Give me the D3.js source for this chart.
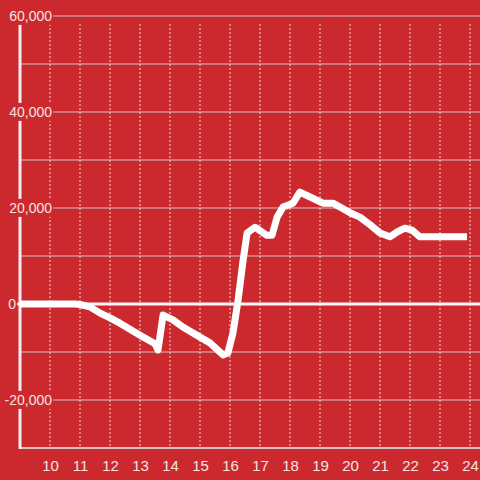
<!DOCTYPE html>
<html>
<head>
<meta charset="utf-8">
<script src="https://cdn.jsdelivr.net/npm/d3@7"></script>
<style>
  body { margin: 0; background: #cc292e; }
  svg { display: block; font-family: "Liberation Sans", Arial, sans-serif; }
</style>
</head>
<body>
<svg width="480" height="480"></svg>
<script>
var svg = d3.select("svg"),
    width = +svg.attr("width"),
    height = +svg.attr("height");

var bg = "#cc292e";

// hours of the day and running total
var hours = [9.0, 10.83, 11.0, 11.33, 11.67, 12.0, 12.33, 13.0, 13.5, 13.6, 13.77, 14.1, 14.43, 15.0, 15.33,
             15.77, 15.93, 16.1, 16.27, 16.43, 16.57, 16.83, 17.23, 17.4, 17.57, 17.77, 18.1, 18.33, 18.67,
             19.1, 19.43, 19.67, 20.0, 20.33, 20.67, 21.0, 21.33, 21.57, 21.83, 22.07, 22.33, 23.9];
var values = [0, 0, -100, -600, -1900, -2900, -4000, -6500, -8300, -9600, -2300, -3300, -4800, -6900, -8100,
              -10600, -10200, -6000, 800, 8800, 14800, 16000, 14300, 14300, 18100, 20200, 21000, 23300, 22300,
              21000, 21000, 20200, 19000, 18100, 16500, 14800, 14000, 15000, 15800, 15400, 14000, 14000];

var xTicks = [10, 11, 12, 13, 14, 15, 16, 17, 18, 19, 20, 21, 22, 23, 24];
var yGrid = [-20000, -10000, 10000, 20000, 30000, 40000, 50000, 60000];
var yLabels = [-20000, 0, 20000, 40000, 60000];

var x = d3.scaleLinear().domain([9, 24 + 1 / 3]).range([20, 480]);
var y = d3.scaleLinear().domain([-30000, 60000]).range([448, 16]);

var data = hours.map(function(h, i) { return {h: h, v: values[i]}; });

svg.append("rect").attr("width", width).attr("height", height).attr("fill", bg);

// horizontal grid
svg.append("g").selectAll("line")
    .data(yGrid)
  .enter().append("line")
    .attr("x1", x(9)).attr("x2", width)
    .attr("y1", function(d) { return y(d); })
    .attr("y2", function(d) { return y(d); })
    .attr("stroke", "#d2c4c4").attr("stroke-width", 1);

// vertical dotted grid
svg.append("g").selectAll("line")
    .data(xTicks)
  .enter().append("line")
    .attr("x1", function(d) { return x(d); })
    .attr("x2", function(d) { return x(d); })
    .attr("y1", 24).attr("y2", y(-30000))
    .attr("stroke", "#e8dcdc").attr("stroke-width", 1)
    .attr("stroke-dasharray", "2,2");

// bottom axis
var xAxis = svg.append("g")
    .attr("transform", "translate(0," + y(-30000) + ")")
    .call(d3.axisBottom(x).tickValues(xTicks).tickSize(0).tickPadding(12));
xAxis.select(".domain").attr("stroke", "#d2c4c4").attr("stroke-width", 2).attr("d", "M" + x(9) + ",0H" + width);
xAxis.selectAll("text").attr("fill", "#f3e4e4").attr("font-size", 15).attr("font-family", "Liberation Sans, Arial, sans-serif");

// left axis line
svg.append("line")
    .attr("x1", x(9)).attr("x2", x(9))
    .attr("y1", 24).attr("y2", y(-30000) + 1)
    .attr("stroke", "#f4eeee").attr("stroke-width", 3);

// zero line
svg.append("line")
    .attr("x1", 17).attr("x2", width)
    .attr("y1", y(0)).attr("y2", y(0))
    .attr("stroke", "#fbf6f6").attr("stroke-width", 3);

// y labels with background boxes
var yl = svg.append("g").selectAll("g")
    .data(yLabels)
  .enter().append("g");

yl.append("text")
    .attr("x", function(d) { return d == 0 ? 16 : 52; })
    .attr("y", function(d) { return y(d); })
    .attr("dy", "0.35em")
    .attr("text-anchor", "end")
    .attr("font-size", 14)
    .attr("fill", "#f3e4e4")
    .text(function(d) { return d3.format(",")(d).replace("−", "-"); });

yl.each(function() {
  var t = d3.select(this).select("text"),
      b = t.node().getBBox();
  d3.select(this).insert("rect", "text")
      .attr("x", b.x - 1).attr("y", b.y - 1)
      .attr("width", b.width + 2).attr("height", b.height + 2)
      .attr("fill", bg);
});

// the series
var line = d3.line()
    .x(function(d) { return x(d.h); })
    .y(function(d) { return y(d.v); });

svg.append("path")
    .datum(data)
    .attr("d", line)
    .attr("fill", "none")
    .attr("stroke", "#ffffff")
    .attr("stroke-width", 7)
    .attr("stroke-linejoin", "round")
    .attr("stroke-linecap", "butt");
</script>
</body>
</html>
